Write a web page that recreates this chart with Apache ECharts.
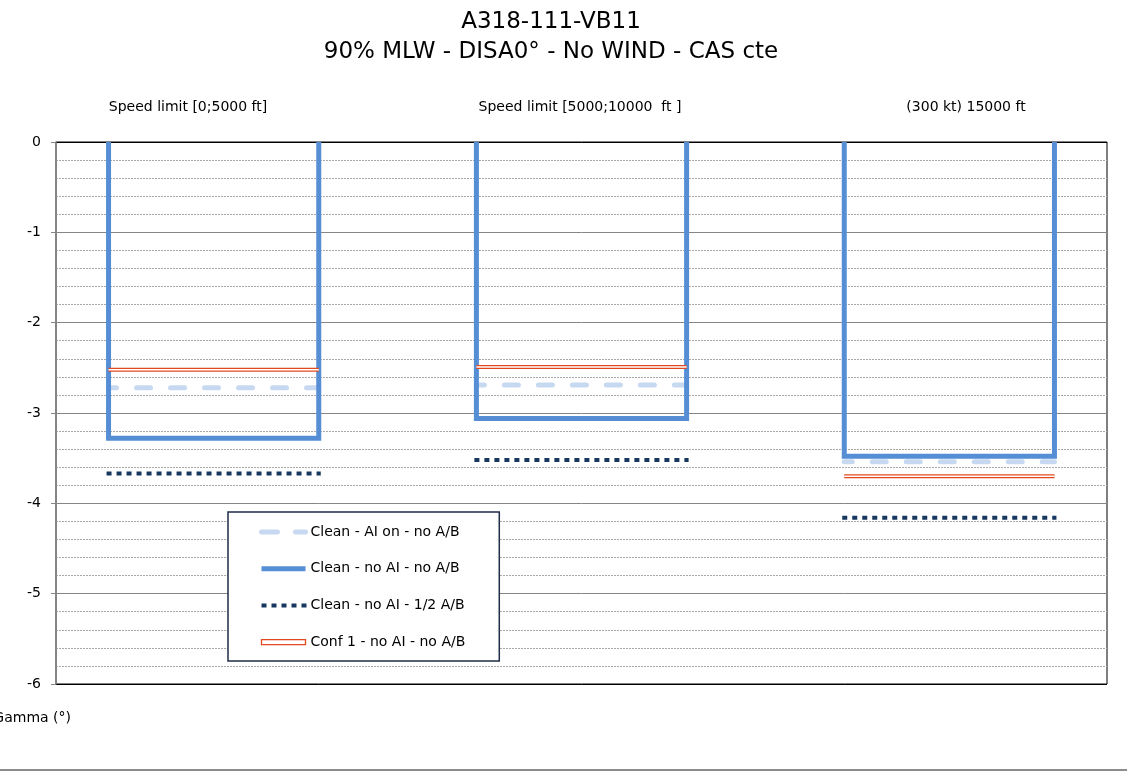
<!DOCTYPE html>
<html>
<head>
<meta charset="utf-8">
<script src="https://cdn.jsdelivr.net/npm/echarts@6/dist/echarts.min.js"></script>
<style>
html,body{margin:0;padding:0;background:#fff;}
#chart{width:1127px;height:778px;}
</style>
</head>
<body>
<div id="chart"></div>
<script>
// ---- data ----
const titleLines = ['A318-111-VB11', '90% MLW - DISA0° - No WIND - CAS cte'];
const groupLabels = ['Speed limit [0;5000 ft]', 'Speed limit [5000;10000  ft ]', '(300 kt) 15000 ft'];
const groupStart = [5, 40, 75];
const groupEnd = [25, 60, 95];
const seriesNames = ['Clean - AI on - no A/B', 'Clean - no AI - no A/B', 'Clean - no AI - 1/2 A/B', 'Conf 1 - no AI - no A/B'];
const cleanAiOnNoAB = [-2.72, -2.69, -3.54];
const cleanNoAiNoAB = [-3.28, -3.06, -3.48];
const cleanNoAiHalfAB = [-3.67, -3.52, -4.16];
const conf1NoAiNoAB = [-2.52, -2.49, -3.70];
const yAxisName = 'Gamma (°)';

// ---- build line paths from the data ----
function hLines(vals) {
  const out = [];
  vals.forEach((v, i) => {
    out.push([groupStart[i], v], [groupEnd[i], v], [groupEnd[i], '-']);
  });
  return out;
}
function boxes(vals) {
  const out = [];
  vals.forEach((v, i) => {
    out.push([groupStart[i], 0], [groupStart[i], v], [groupEnd[i], v], [groupEnd[i], 0], [groupEnd[i], '-']);
  });
  return out;
}

const FONT = '"DejaVu Sans", "Liberation Sans", Arial, sans-serif';
const LIGHT = '#c6d9f1', BLUE = '#558ed5', NAVY = '#17375e', RED = '#e2491e';

const chart = echarts.init(document.getElementById('chart'));
const option = {
  animation: false,
  textStyle: { fontFamily: FONT },
  title: {
    text: titleLines.join('\n'),
    left: 551,
    textAlign: 'center',
    top: 7,
    padding: 0,
    textStyle: { fontSize: 23, fontWeight: 'normal', color: '#000', lineHeight: 30, fontFamily: FONT }
  },
  grid: { left: 56, right: 20, top: 142, bottom: 94, show: true, borderColor: '#000', borderWidth: 1 },
  xAxis: { type: 'value', min: 0, max: 100, show: false },
  yAxis: {
    type: 'value', min: -6, max: 0, interval: 1,
    axisLine: { show: true, lineStyle: { color: '#868686', width: 1.5 } },
    axisTick: { show: true, length: 5, lineStyle: { color: '#868686' } },
    axisLabel: { fontSize: 14, color: '#000', margin: 15, fontFamily: FONT },
    splitLine: { show: true, lineStyle: { color: ['#000', '#868686', '#868686', '#868686', '#868686', '#868686', '#000'], width: 1 } },
    minorTick: { show: false, splitNumber: 5 },
    minorSplitLine: { show: true, lineStyle: { color: '#a8a8a8', type: [2, 1], width: 1 } }
  },
  legend: {
    orient: 'vertical',
    left: 228, top: 512,
    padding: [13, 34, 12, 31],
    itemGap: 22.7,
    itemWidth: 44, itemHeight: 5,
    backgroundColor: '#fff',
    borderColor: '#1e2c48', borderWidth: 1.5,
    selectedMode: false,
    textStyle: { fontSize: 14, color: '#000', fontFamily: FONT },
    data: [
      { name: seriesNames[0], lineStyle: { width: 5, type: [16, 18], cap: 'round', color: LIGHT, dashOffset: 0 }, itemStyle: { opacity: 0 } },
      { name: seriesNames[1], lineStyle: { width: 5, type: 'solid', cap: 'butt', color: BLUE }, itemStyle: { opacity: 0 } },
      { name: seriesNames[2], lineStyle: { width: 4, type: [1, 9], cap: 'square', color: NAVY, dashOffset: -2 }, itemStyle: { opacity: 0 } },
      { name: seriesNames[3], icon: 'rect', itemStyle: { color: '#fff', borderColor: RED, borderWidth: 1.3 } }
    ]
  },
  series: [
    { name: seriesNames[0], type: 'line', data: hLines(cleanAiOnNoAB), symbol: 'none', silent: true,
      lineStyle: { color: LIGHT, width: 5, type: [14, 20], cap: 'round', dashOffset: 6 }, itemStyle: { color: LIGHT } },
    { name: seriesNames[1], type: 'line', data: boxes(cleanNoAiNoAB), symbol: 'none', silent: true,
      lineStyle: { color: BLUE, width: 5, join: 'miter', cap: 'butt' }, itemStyle: { color: BLUE } },
    { name: seriesNames[2], type: 'line', data: hLines(cleanNoAiHalfAB), symbol: 'none', silent: true,
      lineStyle: { color: NAVY, width: 4, type: [1, 9], cap: 'square' }, itemStyle: { color: NAVY } },
    { name: seriesNames[3], type: 'line', data: hLines(conf1NoAiNoAB), symbol: 'none', silent: true,
      lineStyle: { color: RED, width: 4 }, itemStyle: { color: RED } },
    { name: '', type: 'line', data: hLines(conf1NoAiNoAB), symbol: 'none', silent: true,
      lineStyle: { color: '#fff', width: 1.5 } }
  ],
  graphic: [
    { type: 'text', x: 188, y: 107, style: { text: groupLabels[0], fontSize: 14, fontFamily: FONT, fill: '#000', align: 'center', verticalAlign: 'middle' } },
    { type: 'text', x: 580, y: 107, style: { text: groupLabels[1], fontSize: 14, fontFamily: FONT, fill: '#000', align: 'center', verticalAlign: 'middle' } },
    { type: 'text', x: 966, y: 107, style: { text: groupLabels[2], fontSize: 14, fontFamily: FONT, fill: '#000', align: 'center', verticalAlign: 'middle' } },
    { type: 'text', x: 71, y: 718, style: { text: yAxisName, fontSize: 14, fontFamily: FONT, fill: '#000', align: 'right', verticalAlign: 'middle' } },
    { type: 'line', shape: { x1: 0, y1: 770, x2: 1127, y2: 770 }, style: { stroke: '#8c8c8c', lineWidth: 2 } }
  ]
};
chart.setOption(option);
</script>
</body>
</html>
